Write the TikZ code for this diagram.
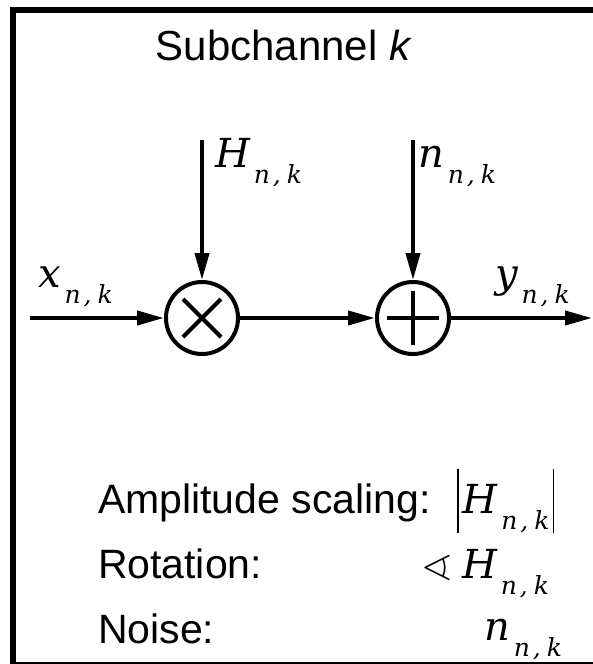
\documentclass[tikz,border=0pt]{standalone}
\usepackage{amssymb}
\usepackage{fontspec}
\setmainfont{Liberation Sans}
\newfontfamily\mf{DejaVu Serif}
\usetikzlibrary{arrows.meta}
\newcommand\msym[2]{{\mf\itshape\fontsize{40}{40}\selectfont #1}\hspace{4pt}\raisebox{-16pt}{\mf\itshape\fontsize{25}{25}\selectfont #2}}
\newcommand\nk{n\hspace{3pt},\hspace{6pt}k}
\begin{document}
\begin{tikzpicture}[x=1pt,y=-1pt,line width=4pt,
  arr/.style={-{Triangle[length=27pt,width=14pt]}},
  op/.style={circle,draw,line width=4pt,minimum size=72pt,inner sep=0pt},
  lbl/.style={anchor=base west,inner sep=0pt},
  txt/.style={anchor=base west,inner sep=0pt,font=\fontsize{41}{41}\selectfont}]
\useasboundingbox (0,0) rectangle (593,664);
% frame
\draw[line width=6pt] (13,670) -- (13,10) -- (600,10);
\draw[line width=1.5pt] (13,663) -- (600,663);
% title
\node[font=\fontsize{42}{42}\selectfont,inner sep=0pt] (title) at (284,45) {Subchannel \textit{k}};
% operators
\node[op] (mul) at (202,318) {};
\node[op] (add) at (413,318) {};
\draw ([shift={(-19,-19)}]mul.center) -- ([shift={(19,19)}]mul.center);
\draw ([shift={(-19,19)}]mul.center) -- ([shift={(19,-19)}]mul.center);
\draw ([shift={(-26,0)}]add.center) -- ([shift={(26,0)}]add.center);
\draw ([shift={(0,-27)}]add.center) -- ([shift={(0,27)}]add.center);
% connectors
\coordinate (in) at (30,318);
\coordinate (out) at (592,318);
\coordinate (hin) at (202,140);
\coordinate (nin) at (413,140);
\draw[arr] (in) -- (mul);
\draw[arr] (mul) -- (add);
\draw[arr] (add) -- (out);
\draw[arr] (hin) -- (mul);
\draw[arr] (nin) -- (add);
% labels
\node[lbl] (lH) at (213,167) {\msym{H}{\nk}};
\node[lbl] (ln) at (416,167) {\msym{n}{\nk}};
\node[lbl] (lx) at (36,287) {\msym{x}{\nk}};
\node[lbl] (ly) at (493,287) {\msym{y}{\nk}};
% legend
\node[txt] (l1) at (96,513) {Amplitude scaling:};
\node[txt] (l2) at (96,578) {Rotation:};
\node[txt] (l3) at (96,643) {Noise:};
\node[lbl] (m1) at (455,513) {\rule[-20pt]{1.5pt}{64pt}\hspace{4pt}\msym{H}{\nk}\hspace{3pt}\rule[-20pt]{1.5pt}{64pt}};
\node[lbl] (m2) at (420,578) {\resizebox{30pt}{22pt}{$\sphericalangle$}\hspace{10pt}\msym{H}{\nk}};
\node[lbl] (m3) at (482,640) {\msym{n}{\nk}};
\end{tikzpicture}
\end{document}
